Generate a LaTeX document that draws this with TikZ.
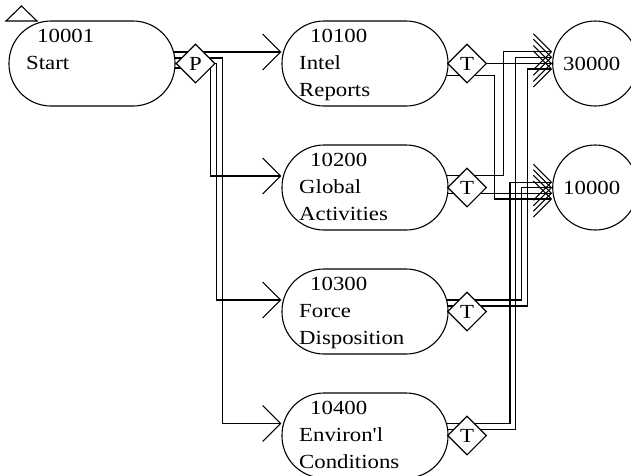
\documentclass[tikz,border=0pt]{standalone}
\usepackage{fontspec}
\setmainfont{Liberation Serif}[FakeStretch=1.14, Ligatures=TeXOff]
\usetikzlibrary{shapes.geometric,arrows.meta,calc}
\pgfdeclarelayer{bg}
\pgfsetlayers{bg,main}
\begin{document}
\begin{tikzpicture}[x=1pt,y=-1pt,
  every node/.style={font=\fontsize{20}{24}\selectfont},
  proc/.style={draw, rectangle, rounded corners=42pt, minimum width=166pt, minimum height=85pt, fill=white, line width=1.1pt, inner sep=0pt},
  gate/.style={draw, diamond, minimum width=39pt, minimum height=39pt, inner sep=0pt, fill=white, line width=1.1pt},
  term/.style={draw, circle, minimum size=85pt, inner sep=0pt, fill=white, line width=1.1pt},
  lbl/.style={anchor=base west, inner sep=0pt},
  link/.style={line width=1.1pt},
  arr/.style={link, -{Straight Barb[length=18pt,width=36pt]}},
]
\useasboundingbox (0,0) rectangle (631,475);

% marker triangle
\draw[line width=1.1pt, line join=miter] (6,21) -- (21.5,6) -- (37,21) -- cycle;

% process nodes
\node[proc] (start) at (92,63.5) {};
\node[proc] (intel) at (365,63.5) {};
\node[proc] (global) at (365,187.5) {};
\node[proc] (force) at (365,311.5) {};
\node[proc] (env) at (365,435.5) {};

% gates
\node[gate] (p) at (195.5,63.5) {P};
\node[gate] (t1) at (467,63.5) {T};
\node[gate] (t2) at (467,187.5) {T};
\node[gate] (t3) at (467,311.5) {T};
\node[gate] (t4) at (467,435.5) {T};

% terminal circles
\node[term] (c30) at (595.2,63.5) {};
\node[term] (c10) at (595.2,187.5) {};
\node (c30t) at ($(c30.center)+(-3.5,0)$) {30000};
\node (c10t) at ($(c10.center)+(-3.5,0)$) {10000};

% labels
\node[lbl] (startA) at ($(start.center)+(-55,-21)$) {10001};
\node[lbl] (startB) at ($(start.center)+(-66,5.5)$) {Start};

\node[lbl] (intelA) at ($(intel.center)+(-55,-21)$) {10100};
\node[lbl] (intelB) at ($(intel.center)+(-66,5.5)$) {Intel};
\node[lbl] (intelC) at ($(intel.center)+(-66,32.5)$) {Reports};

\node[lbl] (globalA) at ($(global.center)+(-55,-21)$) {10200};
\node[lbl] (globalB) at ($(global.center)+(-66,5.5)$) {Global};
\node[lbl] (globalC) at ($(global.center)+(-66,32.5)$) {Activities};

\node[lbl] (forceA) at ($(force.center)+(-55,-21)$) {10300};
\node[lbl] (forceB) at ($(force.center)+(-66,5.5)$) {Force};
\node[lbl] (forceC) at ($(force.center)+(-66,32.5)$) {Disposition};

\node[lbl] (envA) at ($(env.center)+(-55,-21)$) {10400};
\node[lbl] (envB) at ($(env.center)+(-66,5.5)$) {Environ'l};
\node[lbl] (envC) at ($(env.center)+(-66,32.5)$) {Conditions};

\begin{pgfonlayer}{bg}
% P outputs
\draw[arr] ($(start.center)+(0,-11.5)$) -- ($(intel.west)+(0,-11.5)$);
\draw[arr] ($(start.center)+(0,4.5)$) -| ($(p.center)+(15.2,40)$) |- ($(global.west)+(0,-11.5)$);
\draw[arr] ($(start.center)+(0,0)$) -| ($(p.center)+(21.2,40)$) |- ($(force.west)+(0,-11.5)$);
\draw[arr] ($(start.center)+(0,-5.5)$) -| ($(p.center)+(27.2,40)$) |- ($(env.west)+(0,-12)$);

% T outputs
\draw[arr] (intel.center) -- (c30.west);
\draw[arr] ($(intel.center)+(0,12.2)$) -| ($(t1.center)+(27.3,60)$) |- ($(c10.west)+(0,11.5)$);
\draw[arr] ($(global.center)+(0,-11.8)$) -| ($(t2.center)+(36.8,-60)$) |- ($(c30.west)+(0,-11.8)$);
\draw[arr] ($(global.center)+(0,5.8)$) -- ($(c10.west)+(0,5.8)$);
\draw[arr] ($(force.center)+(0,-11.5)$) -| ($(t3.center)+(54.7,-60)$) |- ($(c10.west)+(0,0.2)$);
\draw[arr] ($(force.center)+(0,-5.5)$) -| ($(t3.center)+(60.7,-60)$) |- ($(c30.west)+(0,5.5)$);
\draw[arr] ($(env.center)+(0,-12.2)$) -| ($(t4.center)+(43,-60)$) |- ($(c10.west)+(0,-5.2)$);
\draw[arr] ($(env.center)+(0,-6.2)$) -| ($(t4.center)+(48.7,-60)$) |- ($(c30.west)+(0,-6.2)$);
\end{pgfonlayer}
\end{tikzpicture}
\end{document}
